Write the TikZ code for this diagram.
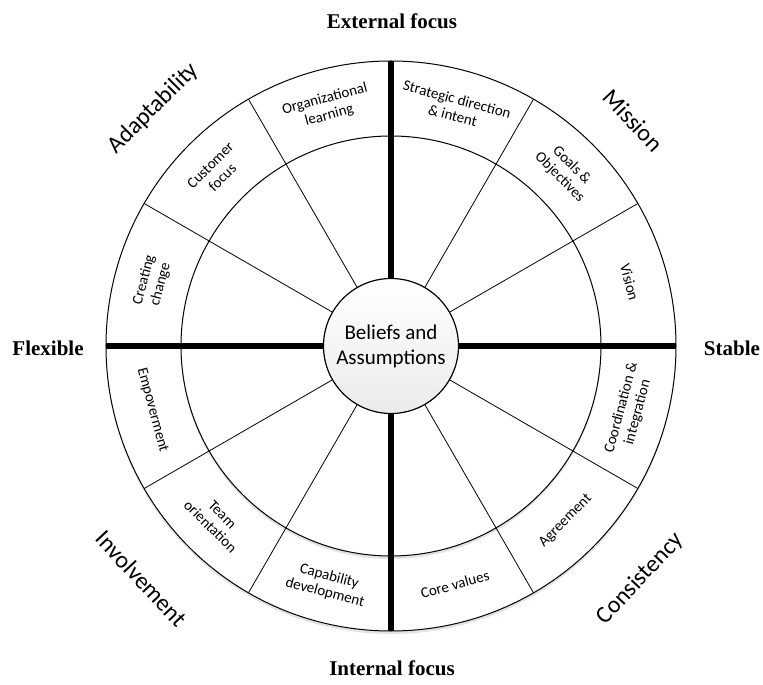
\documentclass[tikz,border=0pt]{standalone}
\usepackage{fontspec}
\setmainfont{Carlito}
\newfontfamily\polefont{Liberation Serif}
\usetikzlibrary{shadows}
\begin{document}
\begin{tikzpicture}[x=1pt,y=1pt,
  seg/.style={align=center,inner sep=0pt,font=\fontsize{15}{17}\selectfont},
  big/.style={inner sep=0pt,font=\fontsize{24}{28}\selectfont},
  pole/.style={inner sep=0pt,font=\polefont\bfseries\fontsize{21}{24}\selectfont},
  ring/.style={line width=1pt,fill=white,drop shadow={opacity=.18,shadow xshift=0pt,shadow yshift=-3pt,fill=blue!25!gray}},
  spoke/.style={line width=.8pt},
  axis/.style={line width=6pt}]
\useasboundingbox (-391,-339) rectangle (372,346);
\draw[ring] (0,0) circle (285);
\draw[ring] (0,0) circle (210);
\node[circle,draw,line width=1.2pt,minimum size=135pt,inner sep=0pt,top color=white,bottom color=black!8,align=center,font=\fontsize{21}{25}\selectfont] (core) at (0,0) {Beliefs and\\Assumptions};
\foreach \a in {30,60,120,150,210,240,300,330}\draw[spoke] (core.\a) -- (\a:285);
\foreach \a in {0,90,180,270}\draw[axis] (core.\a) -- (\a:285);
\foreach \a/\t in {15/Vision,45/{Goals \&\\Objectives},75/{Strategic direction\\\& intent},105/{Organizational\\learning},135/{Customer\\focus},165/{Creating\\change}}
  \node[seg,rotate=\a-90] (s\a) at (\a:247) {\t};
\foreach \a/\t in {195/Empoverment,225/{Team\\orientation},255/{Capability\\development},285/{Core values},315/Agreement,345/{Coordination \&\\integration}}
  \node[seg,rotate=\a+90] (s\a) at (\a:247) {\t};
\node[big,rotate=45] (adapt) at (135:336) {Adaptability};
\node[big,rotate=-47] (miss) at (43:331) {Mission};
\node[big,rotate=-47] (invol) at (223:341) {Involvement};
\node[big,rotate=47] (consis) at (317:341) {Consistency};
\node[pole] (ext) at (1,325) {External focus};
\node[pole] (int) at (1,-322) {Internal focus};
\node[pole] (flex) at (-343,-2) {Flexible};
\node[pole] (stab) at (341,-2) {Stable};
\end{tikzpicture}
\end{document}
